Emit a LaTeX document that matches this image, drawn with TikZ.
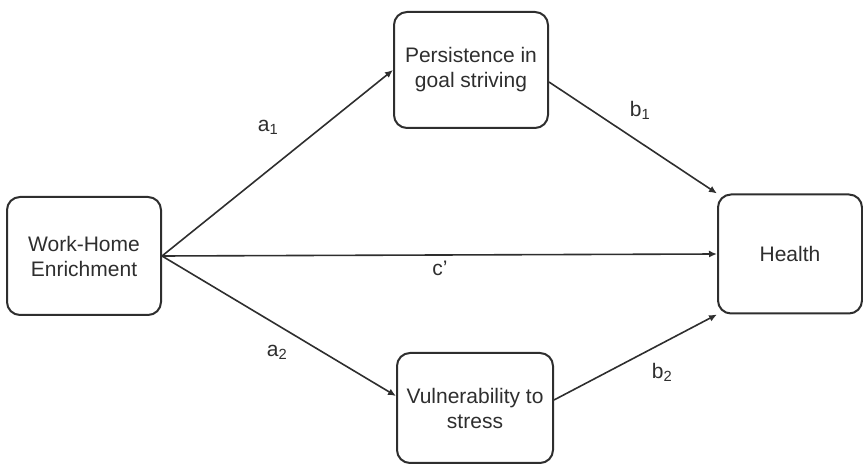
\documentclass[tikz,border=0pt]{standalone}
\usepackage{fontspec}
\setmainfont{Liberation Sans}
\usetikzlibrary{arrows.meta}
\definecolor{ink}{HTML}{2E2E2E}
\begin{document}
\begin{tikzpicture}[
		x=1pt, y=1pt,
		box/.style={rectangle, draw=ink, line width=2pt, rounded corners=13pt, align=center, text=ink, font=\fontsize{21}{25}\selectfont},
		r/.style = {-{Latex[length=8pt, width=7pt]}, draw=ink, line width=1.6pt},
		lab/.style={text=ink, font=\fontsize{21}{25}\selectfont},
		]
		\useasboundingbox (0, 0) rectangle (863, 466);
		
		%Nodes
		\node[box, minimum width=154, minimum height=118]	(whe)	at	(84, 210)	{Work-Home\\Enrichment};
		\node[box, minimum width=154, minimum height=116]	(pgs)	at	(471, 396)	{Persistence in\\goal striving};
		\node[box, minimum width=156, minimum height=110]	(vts)	at	(475, 58)	{Vulnerability to\\stress};
		\node[box, minimum width=144, minimum height=119]	(hlt)	at	(790, 212)	{Health};
		
		%Paths
		\draw[r]	(whe.east)	--	(pgs.west);
		\draw[r]	(whe.east)	--	([yshift=12]vts.west);
		\draw[r]	(whe.east)	--	(hlt.west);
		\draw[r]	([yshift=-12]pgs.east)	--	(hlt.north west);
		\draw[r]	([yshift=8]vts.east)	--	(hlt.south west);
		
		%Labels
		\node[lab]	(la1)	at	(268, 339)	{a\textsubscript{1}};
		\node[lab]	(lb1)	at	(640, 356)	{b\textsubscript{1}};
		\node[lab]	(la2)	at	(277, 114)	{a\textsubscript{2}};
		\node[lab]	(lb2)	at	(662, 94)	{b\textsubscript{2}};
		\node[lab]	(lc)	at	(440, 198)	{c’};
	\end{tikzpicture}
\end{document}
